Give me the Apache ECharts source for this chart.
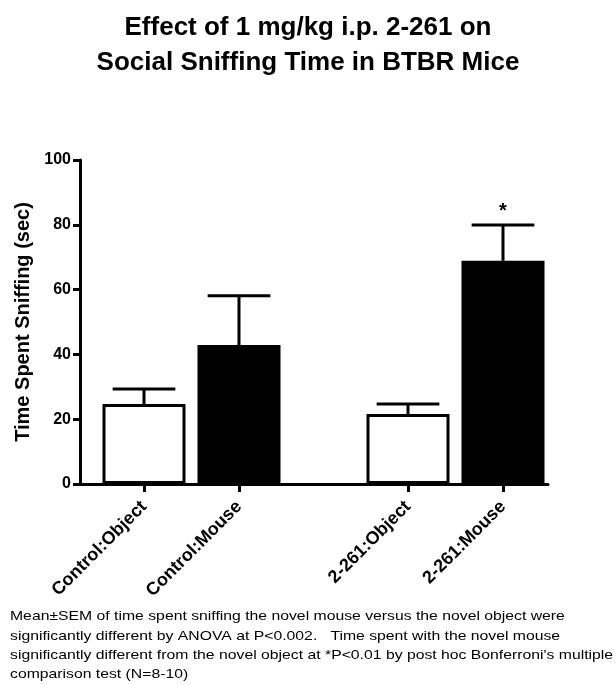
<!DOCTYPE html>
<html>
<head>
<meta charset="utf-8">
<script src="https://cdn.jsdelivr.net/npm/echarts@6/dist/echarts.min.js"></script>
<style>html,body{margin:0;padding:0;background:#fff;}#c{width:616px;height:685px;}</style>
</head>
<body>
<div id="c"></div>
<script>
// ---- data ----
const controlCategories = ['Control:Object', 'Control:Mouse'];
const drugCategories = ['2-261:Object', '2-261:Mouse'];
const controlMeans = [24.7, 42.9];
const controlSEM = [4.6, 15.2];
const drugMeans = [21.6, 68.9];
const drugSEM = [3.1, 11.0];
const controlSig = ['', ''];
const drugSig = ['', '*'];
const barColors = ['#ffffff', '#000000'];
const yTicks = [0, 20, 40, 60, 80, 100];
const titleText = 'Effect of 1 mg/kg i.p. 2-261 on\nSocial Sniffing Time in BTBR Mice';
const yAxisName = 'Time Spent Sniffing (sec)';
const footnote = [
  'Mean\u00b1SEM of time spent sniffing the novel mouse versus the novel object were',
  'significantly different by ANOVA at P<0.002.   Time spent with the novel mouse',
  "significantly different from the novel object at *P<0.01 by post hoc Bonferroni's multiple",
  'comparison test (N=8-10)'
];

const FONT = "'Liberation Sans', Arial, Helvetica, sans-serif";

function makeErr(sigs) {
  return function (params, api) {
    const x = api.value(0), m = api.value(1), e = api.value(2);
    const base = api.coord([x, m]);
    const top = api.coord([x, m + e]);
    const bw = api.size([1, 0])[0];
    const hw = bw * 0.33;
    const children = [
      { type: 'line', shape: { x1: base[0], y1: base[1], x2: top[0], y2: top[1] },
        style: { stroke: '#000', lineWidth: 3 } },
      { type: 'line', shape: { x1: top[0] - hw, y1: top[1], x2: top[0] + hw, y2: top[1] },
        style: { stroke: '#000', lineWidth: 3 } }
    ];
    const s = sigs[params.dataIndex];
    if (s) {
      children.push({ type: 'text', style: { text: s, x: top[0], y: top[1] - 4,
        align: 'center', verticalAlign: 'bottom', font: 'bold 20px ' + FONT, fill: '#000' } });
    }
    return { type: 'group', children: children };
  };
}

function barData(means) {
  return means.map((v, i) => ({ value: v, itemStyle: { color: barColors[i] } }));
}
function errData(means, sems) {
  return means.map((v, i) => [i, v, sems[i]]);
}

const yMin = yTicks[0], yMax = yTicks[yTicks.length - 1], yStep = yTicks[1] - yTicks[0];

const catAxis = (gi, cats) => ({
  type: 'category', gridIndex: gi, data: cats,
  axisLine: { show: false },
  axisTick: { show: true, alignWithLabel: true, length: 8, lineStyle: { color: '#000', width: 3 } },
  axisLabel: { rotate: 45, margin: 20, color: '#000', fontWeight: 'bold', fontSize: 18, fontFamily: FONT, interval: 0 },
  splitLine: { show: false }
});
const hiddenY = (gi) => ({ type: 'value', gridIndex: gi, min: yMin, max: yMax, interval: yStep, show: false });

const option = {
  backgroundColor: '#fff',
  animation: false,
  title: [
    { text: titleText, left: 'center', top: 5,
      textStyle: { fontFamily: FONT, fontWeight: 'bold', fontSize: 26, lineHeight: 35, color: '#000' } }
  ],
  graphic: [
    { type: 'text', left: 10, top: 607, scaleX: 1.212, originX: 0,
      style: { text: footnote.join('\n'), font: '13px ' + FONT, lineHeight: 19.3, fill: '#000' } }
  ],
  grid: [
    { left: 80, right: 68, top: 160, bottom: 201 },
    { left: 96.5, right: 329.5, top: 160, bottom: 201 },
    { left: 360.5, right: 65.5, top: 160, bottom: 201 }
  ],
  xAxis: [
    { type: 'value', gridIndex: 0, min: 0, max: 1,
      axisLine: { show: true, onZero: true, lineStyle: { color: '#000', width: 3 } },
      axisTick: { show: false }, axisLabel: { show: false }, splitLine: { show: false } },
    catAxis(1, controlCategories),
    catAxis(2, drugCategories)
  ],
  yAxis: [
    { type: 'value', gridIndex: 0, min: yMin, max: yMax, interval: yStep,
      name: yAxisName, nameLocation: 'middle', nameGap: 45,
      nameTextStyle: { fontFamily: FONT, fontWeight: 'bold', fontSize: 20, color: '#000' },
      axisLine: { show: true, lineStyle: { color: '#000', width: 3 } },
      axisTick: { show: true, length: 7, lineStyle: { color: '#000', width: 3 } },
      axisLabel: { color: '#000', fontWeight: 'bold', fontSize: 16, fontFamily: FONT, margin: 9 },
      splitLine: { show: false } },
    hiddenY(1),
    hiddenY(2)
  ],
  series: [
    { type: 'bar', xAxisIndex: 1, yAxisIndex: 1, data: barData(controlMeans), barWidth: 83,
      itemStyle: { borderColor: '#000', borderWidth: 3 }, z: 2 },
    { type: 'custom', xAxisIndex: 1, yAxisIndex: 1, data: errData(controlMeans, controlSEM),
      renderItem: makeErr(controlSig), z: 3 },
    { type: 'bar', xAxisIndex: 2, yAxisIndex: 2, data: barData(drugMeans), barWidth: 83,
      itemStyle: { borderColor: '#000', borderWidth: 3 }, z: 2 },
    { type: 'custom', xAxisIndex: 2, yAxisIndex: 2, data: errData(drugMeans, drugSEM),
      renderItem: makeErr(drugSig), z: 3 }
  ]
};

const chart = echarts.init(document.getElementById('c'), null, { renderer: 'canvas' });
chart.setOption(option);
</script>
</body>
</html>
